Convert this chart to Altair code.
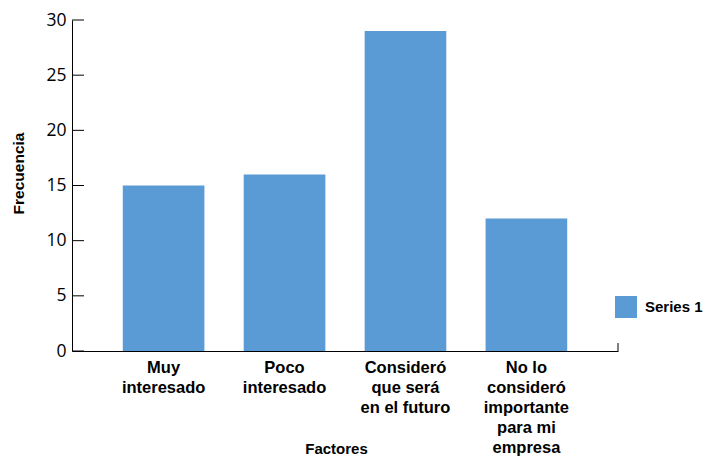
import altair as alt
import pandas as pd

categories = ["Muy\ninteresado", "Poco\ninteresado", "Consideró\nque será\nen el futuro",
              "No lo\nconsideró\nimportante\npara mi\nempresa"]
values = [15, 16, 29, 12]
series_name = "Series 1"
y_ticks = [0, 5, 10, 15, 20, 25, 30]

df = pd.DataFrame({"Factores": categories, "Frecuencia": values, "serie": [series_name] * len(values)})
ticks_df = pd.DataFrame({"t": y_ticks})

W, H = 546, 331

bars = alt.Chart(df).mark_bar(color="#5B9BD5").encode(
    x=alt.X("Factores:N", sort=categories,
            scale=alt.Scale(paddingInner=0.325, paddingOuter=0.42),
            axis=alt.Axis(title="Factores", labelAngle=0, ticks=False,
                          labelExpr="split(datum.label, '\\n')",
                          labelFont="Liberation Sans", labelFontWeight="bold", labelFontSize=16.5,
                          labelLineHeight=20, labelBaseline="top", labelPadding=8,
                          labelColor="#000", domainColor="#000", domainWidth=1,
                          titleFont="Liberation Sans", titleFontWeight="bold", titleFontSize=15,
                          titleColor="#000", titleX=264, titleY=97, titleBaseline="middle",
                          titleAnchor="start", titleAlign="center")),
    y=alt.Y("Frecuencia:Q", scale=alt.Scale(domain=[0, 30], nice=False),
            axis=alt.Axis(title="Frecuencia", values=y_ticks, ticks=False, grid=False,
                          labelFont="Open Sans", labelFontSize=17.5, labelColor="#000",
                          labelPadding=6, domainColor="#000", domainWidth=1,
                          titleFont="Liberation Sans", titleFontWeight="bold", titleFontSize=15.5,
                          titleColor="#000", titleX=-54, titleY=153, titleBaseline="middle",
                          titleAngle=270, titleAnchor="start", titleAlign="center")),
    fill=alt.Fill("serie:N", scale=alt.Scale(range=["#5B9BD5"]),
                  legend=alt.Legend(title=None, orient="none", legendX=543, legendY=276,
                                    symbolType="square", symbolSize=484, symbolStrokeWidth=0,
                                    labelFont="Liberation Sans", labelFontWeight="bold",
                                    labelFontSize=15, labelColor="#000", labelOffset=8,
                                    padding=0)),
)

tick_marks = alt.Chart(ticks_df).mark_rule(color="#000", strokeWidth=1).encode(
    y=alt.Y("t:Q"),
    x=alt.value(0),
    x2=alt.value(12),
)

end_tick = alt.Chart(ticks_df.head(1)).mark_rule(color="#000", strokeWidth=1).encode(
    x=alt.value(W),
    y=alt.value(H - 8),
    y2=alt.value(H),
)

chart = alt.layer(bars, tick_marks, end_tick).properties(
    width=W, height=H,
    autosize=alt.AutoSizeParams(type="none"),
    padding={"left": 64, "top": 12, "right": 85, "bottom": 106},
).configure_view(stroke=None)

chart.save("out.html", embed_options={"renderer": "svg", "actions": False})
